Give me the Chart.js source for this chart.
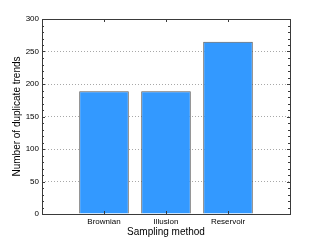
<!DOCTYPE html>
<html><head><meta charset="utf-8">
<script src="https://cdn.jsdelivr.net/npm/chart.js@4"></script>
<style>html,body{margin:0;padding:0;background:#fff}#wrap{width:321px;height:242px;position:relative}</style>
</head><body><div id="wrap"><canvas id="c" width="321" height="242"></canvas></div>
<script>
const categories = ['Brownian', 'Illusion', 'Reservoir'];
const duplicates = [189, 189, 265];
const yTicks = [0, 50, 100, 150, 200, 250, 300];
const xTitle = 'Sampling method';
const yTitle = 'Number of duplicate trends';

const FONT = 'Liberation Sans, Arial, Helvetica, sans-serif';
const AX = '#3a3a3a';

const innerTicks = {
  id: 'innerTicks',
  afterDatasetsDraw(chart) {
    const ctx = chart.ctx, a = chart.chartArea, xs = chart.scales.x, ys = chart.scales.y;
    ctx.save();
    ctx.strokeStyle = AX; ctx.lineWidth = 1;
    ctx.beginPath();
    for (let v = ys.min; v <= ys.max; v += 10) {
      const y = Math.round(ys.getPixelForValue(v)) + 0.5;
      const len = (v % 50 === 0) ? 3 : 2;
      ctx.moveTo(a.left, y); ctx.lineTo(a.left + len, y);
      ctx.moveTo(a.right, y); ctx.lineTo(a.right - len, y);
    }
    categories.forEach((c, i) => {
      const x = Math.round(xs.getPixelForValue(i + 1)) + 0.5;
      ctx.moveTo(x, a.top); ctx.lineTo(x, a.top + 3);
      ctx.moveTo(x, a.bottom); ctx.lineTo(x, a.bottom - 3);
    });
    ctx.stroke();
    ctx.strokeRect(Math.round(a.left) + 0.5, Math.round(a.top) + 0.5, Math.round(a.right - a.left), Math.round(a.bottom - a.top));
    ctx.restore();
  }
};

new Chart(document.getElementById('c'), {
  type: 'bar',
  data: {
    datasets: [{
      data: categories.map((c, i) => ({ x: i + 1, y: duplicates[i] })),
      backgroundColor: '#3399ff',
      borderColor: '#5a5a5a',
      borderWidth: 1,
      barPercentage: 0.8,
      categoryPercentage: 1.0
    }]
  },
  options: {
    responsive: false,
    animation: false,
    devicePixelRatio: 1,
    layout: { padding: { left: 0, top: 19, right: 31, bottom: 0 } },
    plugins: { legend: { display: false }, tooltip: { enabled: false } },
    scales: {
      x: {
        type: 'linear', min: 0, max: 4, offset: false,
        afterBuildTicks(s) { s.ticks = categories.map((c, i) => ({ value: i + 1 })); },
        afterFit(s) { s.height = 28; },
        ticks: { callback: (v) => categories[v - 1] || '', color: '#000', font: { family: FONT, size: 8 }, padding: 3, maxRotation: 0, autoSkip: false },
        grid: { display: false, drawTicks: false, offset: false },
        border: { display: false },
        title: { display: true, text: xTitle, color: '#000', font: { family: FONT, size: 10 }, padding: { top: 0, bottom: 4 } }
      },
      y: {
        min: 0, max: 300,
        afterBuildTicks(s) { s.ticks = yTicks.map(v => ({ value: v })); },
        afterFit(s) { s.width = 42; },
        ticks: { color: '#000', font: { family: FONT, size: 8 }, padding: 3 },
        grid: {
          drawTicks: false,
          color: (ctx) => (ctx.tick && (ctx.tick.value === 0 || ctx.tick.value === 300)) ? 'rgba(0,0,0,0)' : '#a8a8a8'
        },
        border: { display: false, dash: [1, 2] },
        title: { display: true, text: yTitle, color: '#000', font: { family: FONT, size: 10 }, padding: { top: 11, bottom: 0 } }
      }
    }
  },
  plugins: [innerTicks]
});
</script></body></html>
